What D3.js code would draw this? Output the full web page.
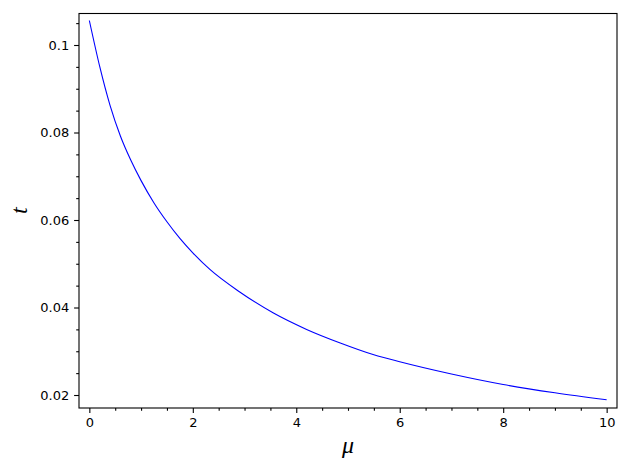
<!DOCTYPE html>
<html>
<head>
<meta charset="utf-8">
<script src="https://cdn.jsdelivr.net/npm/d3@7"></script>
<style>
	body { margin: 0; background: #fff; }
</style>
</head>
<body>
<div id="chart"></div>
<script>
	// values
	var mu = [0, 0.2, 0.4, 0.6, 0.8, 1.0, 1.25, 1.5, 1.75, 2.0, 2.33, 2.9, 3.55, 4.2, 4.85, 5.5, 6.0, 7.0, 8.0, 9.0, 10.0];
	var tVals = [0.1056, 0.0951, 0.0862, 0.0792, 0.0737, 0.0690, 0.0639, 0.0596, 0.0558, 0.0525, 0.0487, 0.0436, 0.0388, 0.0350, 0.0319, 0.0292, 0.0276, 0.0248, 0.0224, 0.0205, 0.0189];
	var xTicks = [0, 2, 4, 6, 8, 10];
	var yTicks = [0.02, 0.04, 0.06, 0.08, 0.1];
	var xLabel = "μ";
	var yLabel = "t";

	var width = 630, height = 470;
	var plotLeft = 79, plotRight = 617, plotTop = 13.5, plotBottom = 408;

	var svg = d3.select("#chart")
		.append("svg")
		.attr("width", width)
		.attr("height", height);

	var x = d3.scaleLinear()
		.domain([-0.2, 10.2])
		.range([plotLeft, plotRight]);

	var y = d3.scaleLinear()
		.domain([0.01703, 0.1072])
		.range([plotBottom, plotTop]);

	var data = mu.map(function(m, i){ return [m, tVals[i]]; });

	var line = d3.line()
		.x(function(d){ return x(d[0]); })
		.y(function(d){ return y(d[1]); })
		.curve(d3.curveMonotoneX);

	svg.append("path")
		.datum(data)
		.attr("fill", "none")
		.attr("stroke", "#0000ff")
		.attr("stroke-width", 1.1)
		.attr("d", line);

	// minor ticks
	var xMinor = d3.range(0, 10.01, 0.5).filter(function(v){ return v % 2 !== 0; });
	var yMinor = d3.range(0.02, 0.1051, 0.005).filter(function(v){ return Math.abs(v*50 - Math.round(v*50)) > 1e-6; });

	svg.append("g")
		.attr("transform", "translate(0," + plotBottom + ")")
		.call(d3.axisBottom(x).tickValues(xMinor).tickSize(2.8).tickFormat(""))
		.call(function(g){ g.select(".domain").remove(); });

	svg.append("g")
		.attr("transform", "translate(" + plotLeft + ",0)")
		.call(d3.axisLeft(y).tickValues(yMinor).tickSize(2.8).tickFormat(""))
		.call(function(g){ g.select(".domain").remove(); });

	// major ticks
	svg.append("g")
		.attr("transform", "translate(0," + plotBottom + ")")
		.call(d3.axisBottom(x).tickValues(xTicks).tickSize(4.9).tickPadding(4.5).tickFormat(d3.format("d")))
		.call(function(g){ g.select(".domain").remove(); });

	svg.append("g")
		.attr("transform", "translate(" + plotLeft + ",0)")
		.call(d3.axisLeft(y).tickValues(yTicks).tickSize(4.9).tickPadding(4.9).tickFormat(function(d){ return String(+d.toFixed(2)); }))
		.call(function(g){ g.select(".domain").remove(); });

	svg.selectAll(".tick line")
		.attr("stroke", "#000")
		.attr("stroke-width", 1.1);

	svg.selectAll(".tick text")
		.attr("fill", "#000")
		.style("font-family", "'DejaVu Sans', sans-serif")
		.style("font-size", "13px");

	// frame
	svg.append("rect")
		.attr("x", plotLeft)
		.attr("y", plotTop)
		.attr("width", plotRight - plotLeft)
		.attr("height", plotBottom - plotTop)
		.attr("fill", "none")
		.attr("stroke", "#000")
		.attr("stroke-width", 1.1);

	svg.append("text")
		.attr("x", (plotLeft + plotRight) / 2)
		.attr("y", 453)
		.attr("text-anchor", "middle")
		.style("font-family", "'Liberation Serif', 'DejaVu Serif', serif")
		.style("font-style", "italic")
		.style("font-size", "24px")
		.text(xLabel);

	svg.append("text")
		.attr("transform", "translate(27," + (plotTop + plotBottom) / 2 + ") rotate(-90)")
		.attr("text-anchor", "middle")
		.style("font-family", "'Liberation Serif', 'DejaVu Serif', serif")
		.style("font-style", "italic")
		.style("font-size", "24px")
		.text(yLabel);
</script>
</body>
</html>
